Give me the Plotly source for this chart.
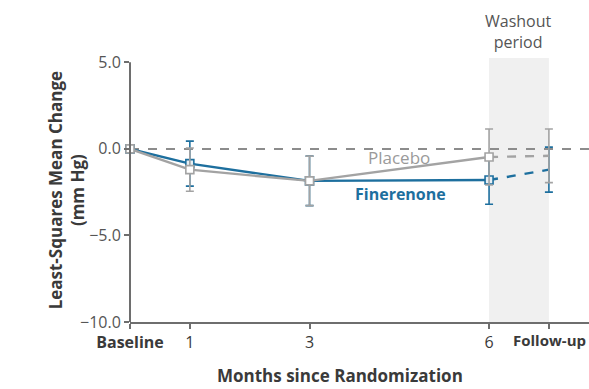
import plotly.graph_objects as go

# Visit positions on the month axis (follow-up plotted one month after month 6)
visits = [0, 1, 3, 6, 7]
tick_labels = ["<b>Baseline</b>", "1", "3", "6", ""]
followup_label = "<b>Follow-up</b>"

# Least-squares mean change in systolic BP (mm Hg) and 95% CI half-widths
finerenone_mean = [0.0, -0.85, -1.85, -1.8, -1.2]
finerenone_ci = [0.0, 1.3, 1.43, 1.4, 1.3]
placebo_mean = [0.0, -1.2, -1.85, -0.47, -0.4]
placebo_ci = [0.0, 1.25, 1.43, 1.62, 1.55]

y_ticks = [5.0, 0.0, -5.0, -10.0]
y_tick_labels = ["5.0", "0.0", "\u22125.0", "\u221210.0"]

BLUE = "#1d6f9e"
GRAY = "#a3a3a3"
AXIS = "#6e6e6e"
FONT = "Open Sans"

fig = go.Figure()

# Washout band between month 6 and follow-up
fig.add_shape(type="rect", xref="x", yref="paper", x0=6, x1=7, y0=0, y1=1,
              fillcolor="#f0f0f0", line_width=0, layer="below")
# Reference line at zero
fig.add_shape(type="line", xref="paper", yref="y", x0=0, x1=1, y0=0, y1=0,
              line=dict(color="#8c8c8c", width=2, dash="dash"), layer="below")
# Y axis spine from -10 to 5
fig.add_shape(type="line", xref="paper", yref="y", x0=0, x1=0, y0=-10, y1=5,
              line=dict(color=AXIS, width=2), layer="above")


def add_series(mean, ci, color, fill):
    # error bars at every post-baseline visit
    fig.add_trace(go.Scatter(
        x=visits[1:], y=mean[1:], mode="markers",
        marker=dict(size=1, color="rgba(0,0,0,0)"),
        error_y=dict(type="data", array=ci[1:], color=color, thickness=1.6, width=4),
        cliponaxis=False, showlegend=False, hoverinfo="skip"))
    # dashed washout segment
    fig.add_trace(go.Scatter(
        x=visits[3:], y=mean[3:], mode="lines",
        line=dict(color=color, width=2.4, dash="dash"),
        cliponaxis=False, showlegend=False))
    # on-treatment segment with open square markers
    fig.add_trace(go.Scatter(
        x=visits[:4], y=mean[:4], mode="lines+markers",
        line=dict(color=color, width=2.4),
        marker=dict(symbol="square", size=8, color=fill,
                    line=dict(color=color, width=1.6)),
        cliponaxis=False, showlegend=False))


add_series(finerenone_mean, finerenone_ci, BLUE, "#e8f0f5")
add_series(placebo_mean, placebo_ci, GRAY, "white")

fig.add_annotation(x=4.5, y=-0.5, text="Placebo", showarrow=False,
                   font=dict(family=FONT, size=17, color="#9a9a9a"))
fig.add_annotation(x=4.52, y=-2.6, text="<b>Finerenone</b>", showarrow=False,
                   font=dict(family=FONT, size=16, color=BLUE))
fig.add_annotation(x=6.5, y=1.0, xref="x", yref="paper", yanchor="bottom",
                   text="Washout<br>period", showarrow=False, yshift=3,
                   font=dict(family=FONT, size=16, color="#555555"))
fig.add_annotation(x=7, y=0, xref="x", yref="paper", yanchor="top",
                   text=followup_label, showarrow=False, yshift=-6, xshift=1,
                   font=dict(family=FONT, size=15, color="#3a3a3a"))

fig.add_annotation(x=-0.192, y=0.5, xref="paper", yref="paper",
                   text="<b>Least-Squares Mean Change<br>(mm Hg)</b>",
                   textangle=-90, showarrow=False,
                   font=dict(family=FONT, size=17, color="#3a3a3a"))
fig.add_annotation(x=0.4575, y=-0.208, xref="paper", yref="paper",
                   text="<b>Months since Randomization</b>", showarrow=False,
                   yshift=-12,
                   font=dict(family=FONT, size=17, color="#3a3a3a"))

fig.update_xaxes(range=[0, 7.67], tickvals=visits, ticktext=tick_labels,
                 showline=True, linecolor=AXIS, linewidth=2,
                 ticks="outside", ticklen=5, tickwidth=2, tickcolor=AXIS,
                 showgrid=False, zeroline=False,
                 tickfont=dict(family=FONT, size=16, color="#3a3a3a"))
fig.update_yaxes(range=[-10, 5.25], tickvals=y_ticks, ticktext=y_tick_labels,
                 showline=False, ticks="outside", ticklen=5, tickwidth=2,
                 tickcolor=AXIS, showgrid=False, zeroline=False,
                 tickfont=dict(family=FONT, size=16, color="#555555"))

fig.update_layout(width=589, height=389,
                  margin=dict(l=130, r=0, t=58, b=67),
                  plot_bgcolor="white", paper_bgcolor="white",
                  font=dict(family=FONT))

fig.write_html("out.html")
